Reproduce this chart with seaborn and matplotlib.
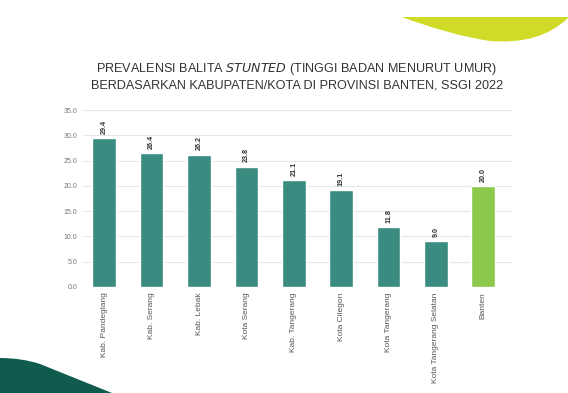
import matplotlib
matplotlib.use("Agg")
import matplotlib.pyplot as plt
from matplotlib.path import Path
from matplotlib.patches import PathPatch
import seaborn as sns
import pandas as pd

regions = ["Kab. Pandeglang", "Kab. Serang", "Kab. Lebak", "Kota Serang",
           "Kab. Tangerang", "Kota Cilegon", "Kota Tangerang",
           "Kota Tangerang Selatan", "Banten"]
values = [29.4, 26.4, 26.2, 23.8, 21.1, 19.1, 11.8, 9.0, 20.0]
bar_colors = ["#3a8c80"] * 8 + ["#8cc84b"]

df = pd.DataFrame({"region": regions, "value": values})

sns.set_theme(style="white")
plt.rcParams['font.family'] = ['Liberation Sans', 'DejaVu Sans']

fig = plt.figure(figsize=(5.68, 3.93), dpi=100)
ax = fig.add_axes([0.146, 0.270, 0.755, 0.450])

sns.barplot(data=df, x="region", y="value", hue="region", palette=bar_colors,
            width=0.5, legend=False, ax=ax, saturation=1)

for cont in ax.containers:
    ax.bar_label(cont, fmt="%.1f", rotation=90, padding=3, fontsize=5.2,
                 color="#333333", fontweight="bold")

ax.set_ylim(0, 35)
ax.set_yticks([0, 5, 10, 15, 20, 25, 30, 35])
ax.set_yticklabels(["%.1f" % t for t in ax.get_yticks()], fontsize=5, color="#777777")
ax.set_xlim(-0.45, 8.6)
ax.set_xticks(range(len(regions)))
ax.set_xticklabels(regions, rotation=90, fontsize=6, color="#555555")
ax.tick_params(axis="both", length=0, pad=4)
ax.yaxis.grid(True, color="#e6e6e6", linewidth=0.8)
ax.set_axisbelow(True)
for s in ax.spines.values():
    s.set_visible(False)
ax.set_xlabel("")
ax.set_ylabel("")

fig.text(0.523, 0.824, "PREVALENSI BALITA $\\it{STUNTED}$ (TINGGI BADAN MENURUT UMUR)",
         ha="center", va="center", fontsize=9.1, color="#333333")
fig.text(0.523, 0.782, "BERDASARKAN KABUPATEN/KOTA DI PROVINSI BANTEN, SSGI 2022",
         ha="center", va="center", fontsize=9.1, color="#333333")

# slide decorations
W, H = 568.0, 393.0
def fp(x, y):
    return (x / W, 1 - y / H)

yellow = Path([fp(402, 17), fp(568, 17), fp(568, 18), fp(540, 45), fp(490, 41),
               fp(450, 35), fp(402, 17)],
              [Path.MOVETO, Path.LINETO, Path.LINETO, Path.CURVE3, Path.LINETO,
               Path.CURVE3, Path.LINETO])
fig.patches.append(PathPatch(yellow, transform=fig.transFigure, facecolor="#cfdb26",
                             edgecolor="none"))

dark = Path([fp(0, 358), fp(22, 358), fp(40, 364), fp(112, 393), fp(0, 393), fp(0, 358)],
            [Path.MOVETO, Path.CURVE3, Path.CURVE3, Path.LINETO, Path.LINETO, Path.CLOSEPOLY])
fig.patches.append(PathPatch(dark, transform=fig.transFigure, facecolor="#0f5c4e",
                             edgecolor="none"))

fig.savefig("out.png", dpi=100)
